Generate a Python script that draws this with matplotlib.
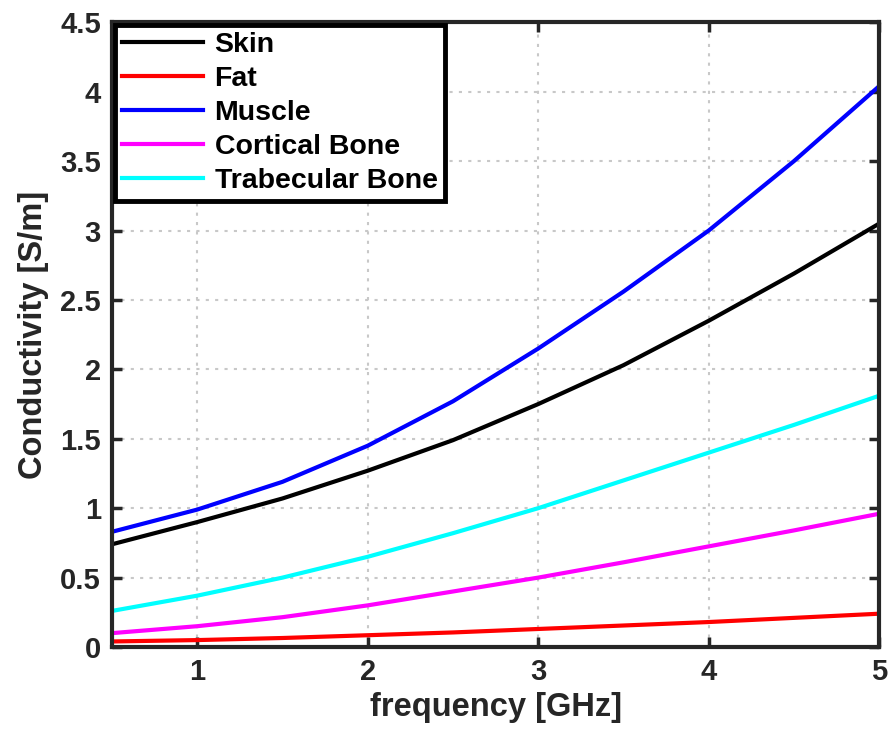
import matplotlib
matplotlib.use("Agg")
import matplotlib.pyplot as plt
import numpy as np

freq = [0.5, 1.0, 1.5, 2.0, 2.5, 3.0, 3.5, 4.0, 4.5, 5.0]
skin = [0.74, 0.90, 1.07, 1.27, 1.49, 1.75, 2.03, 2.35, 2.69, 3.05]
fat = [0.04, 0.05, 0.065, 0.085, 0.105, 0.13, 0.155, 0.18, 0.21, 0.24]
muscle = [0.83, 0.99, 1.19, 1.45, 1.77, 2.15, 2.56, 3.00, 3.50, 4.04]
cortical = [0.10, 0.15, 0.215, 0.30, 0.40, 0.50, 0.61, 0.725, 0.84, 0.96]
trabecular = [0.26, 0.37, 0.50, 0.65, 0.82, 1.00, 1.20, 1.40, 1.60, 1.81]

series = [("Skin", skin, "#000000"), ("Fat", fat, "#ff0000"),
          ("Muscle", muscle, "#0000ff"), ("Cortical Bone", cortical, "#ff00ff"),
          ("Trabecular Bone", trabecular, "#00ffff")]

plt.rcParams['font.family'] = ['Liberation Sans', 'DejaVu Sans']
plt.rcParams['font.weight'] = 'bold'

fig = plt.figure(figsize=(8.89, 7.42), dpi=100)
ax = fig.add_axes([0.126, 0.128, 0.863, 0.842])

for name, vals, c in series:
    ax.plot(freq, vals, color=c, lw=3, label=name)

ax.set_xlim(0.5, 5)
ax.set_ylim(0, 4.5)
ax.set_xticks([1, 2, 3, 4, 5])
ax.set_yticks(np.arange(0, 4.51, 0.5))
ax.set_yticklabels(["0", "0.5", "1", "1.5", "2", "2.5", "3", "3.5", "4", "4.5"])
ax.grid(True, linestyle=(0, (1.5, 3)), color="#c8c8c8", lw=1.5)
ax.tick_params(direction="in", length=7, width=2.5, labelsize=21, colors="#262626",
               top=True, right=True, pad=8)
for lab in ax.get_xticklabels() + ax.get_yticklabels():
    lab.set_fontweight("bold")
for s in ax.spines.values():
    s.set_linewidth(3)
    s.set_color("#262626")
ax.set_xlabel("frequency [GHz]", fontsize=23.5, fontweight="bold", color="#262626", labelpad=4)
ax.set_ylabel("Conductivity [S/m]", fontsize=23.5, fontweight="bold", color="#262626", labelpad=8)

leg = ax.legend(loc="upper left", fontsize=20.5, frameon=True, fancybox=False,
                borderaxespad=0.1, handlelength=2.85, handletextpad=0.4,
                labelspacing=0.28, borderpad=0.25)
leg.get_frame().set_edgecolor("#000000")
leg.get_frame().set_linewidth(3.5)
leg.get_frame().set_alpha(1)
for t in leg.get_texts():
    t.set_fontweight("bold")

fig.savefig("out.png", dpi=100)
